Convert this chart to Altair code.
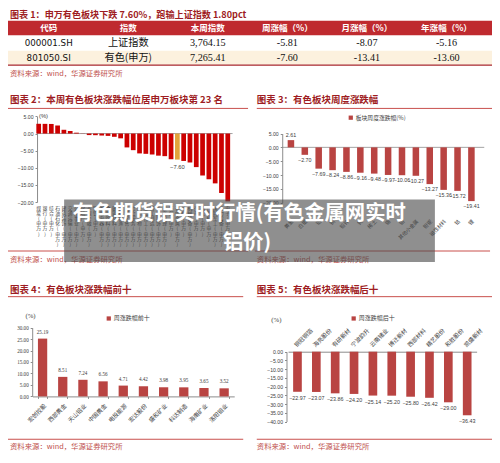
import altair as alt
import pandas as pd

W, H = 484, 447
SX, SY = W / 500, H / 463


def px(v):
    return round(v * SX, 2)


def py(v):
    return round(v * SY, 2)


def fz(v):
    return round(v * SX, 2)


CJK = "Noto Sans CJK SC"
SANS = "Liberation Sans, Noto Sans CJK SC"
SERIF = "Liberation Serif, Noto Sans CJK SC"

TITLE_COLOR = "#9e1c22"
SOURCE_COLOR = "#c0504d"
RULE_COLOR = "#c9504d"
HEADER_RED = "#bf2a2f"
BEIGE = "#fcf1de"
BAR_RED = "#cc0000"
BAR_ORANGE = "#e2a33b"
BAR_BROWN = "#b94442"
AXIS_GREY = "#8c8c8c"
LABEL_GREY = "#404040"

# ---------------- data ----------------
source_text = "资料来源：wind，华源证券研究所"

table_title = "图表 1：申万有色板块下跌 7.60%，跑输上证指数 1.80pct"
table_header = ["代码", "指数", "本周指数", "周涨幅（%）", "月涨幅（%）", "年涨幅（%）"]
table_codes = ["000001.SH", "801050.SI"]
table_names = ["上证指数", "有色(申万)"]
table_row1_nums = ["3,764.15", "-5.81", "-8.07", "-5.16"]
table_row2_nums = ["7,265.41", "-7.60", "-13.41", "-13.60"]

c2_title = "图表 2：本周有色板块涨跌幅位居申万板块第 23 名"
c2_industries = ["煤炭(申万)", "银行(申万)", "综合(申万)", "石油石化(申万)", "建筑装饰(申万)",
                 "交通运输(申万)", "公用事业(申万)", "房地产(申万)", "非银金融(申万)", "钢铁(申万)",
                 "家用电器(申万)", "食品饮料(申万)", "建筑材料(申万)", "农林牧渔(申万)", "商贸零售(申万)",
                 "社会服务(申万)", "医药生物(申万)", "基础化工(申万)", "轻工制造(申万)", "纺织服饰(申万)",
                 "美容护理(申万)", "环保(申万)", "有色金属(申万)", "传媒(申万)", "机械设备(申万)",
                 "汽车(申万)", "通信(申万)", "计算机(申万)", "国防军工(申万)", "电力设备(申万)", "电子(申万)"]
c2_values = [2.85, 2.83, 2.80, 2.35, 1.10, 0.75, 0.25, -0.05, -0.45, -0.48, -0.58, -0.68, -0.95,
             -1.40, -4.05, -4.85, -5.80, -5.92, -6.12, -6.45, -6.60, -7.50, -7.60, -8.00, -8.45,
             -9.80, -12.25, -13.35, -14.55, -17.35, -19.80]
c2_highlight = "有色金属(申万)"
c2_ticks = [5, 0, -5, -10, -15, -20]

c3_title = "图表 3：有色板块周度涨跌幅"
c3_legend = "板块周度涨跌幅(%)"
c3_sectors = ["黄金", "白银", "铝", "铜", "铅锌", "钨", "稀土", "锡", "钼", "其他小金属",
              "钽铌", "磁性材料", "钴", "锂"]
c3_values = [2.61, -2.70, -7.69, -8.24, -8.86, -9.16, -9.48, -9.97, -10.06, -10.27,
             -13.27, -15.36, -15.72, -19.41]
c3_ticks = [5, 0, -5, -10, -15, -20]

c4_title = "图表 4：有色板块涨跌幅前十"
c4_legend = "周涨跌幅前十"
c4_stocks = ["宏创控股", "西部黄金", "天山铝业", "中国黄金", "电投能源", "宏达股份",
             "盛和矿业", "科达制造", "海南矿业", "洛阳钼业"]
c4_values = [25.19, 8.51, 7.24, 6.56, 4.71, 4.42, 3.98, 3.95, 3.65, 3.52]
c4_ticks = [0, 5, 10, 15, 20, 25, 30]

c5_title = "图表 5：有色板块涨跌幅后十"
c5_legend = "周涨跌幅后十"
c5_stocks = ["铜冠铜箔", "海亮股份", "有研新材", "宁波韵升", "云南锗业", "博迁新材",
             "西部材料", "精艺股份", "和胜股份", "凯盛新材"]
c5_values = [-22.97, -23.07, -23.86, -24.20, -25.14, -25.20, -25.80, -26.42, -29.00, -36.43]
c5_ticks = [0, -5, -10, -15, -20, -25, -30, -35, -40]

overlay_lines = ["有色期货铝实时行情(有色金属网实时", "铝价)"]


# ---------------- helpers ----------------
def ptext(txt, x, y, size, color="#000000", font=CJK, weight="normal", align="left",
          baseline="middle", opacity=1.0):
    df = pd.DataFrame({"t": [txt]})
    return alt.Chart(df).mark_text(
        align=align, baseline=baseline, font=font, fontSize=size, fontWeight=weight,
        color=color, opacity=opacity
    ).encode(x=alt.value(px(x)), y=alt.value(py(y)), text="t:N")


def prule(x1, x2, y, color, width=1.0):
    df = pd.DataFrame({"a": [0]})
    return alt.Chart(df).mark_rule(color=color, strokeWidth=width).encode(
        x=alt.value(px(x1)), x2=alt.value(px(x2)), y=alt.value(py(y)))


def prect(x1, y1, x2, y2, color, opacity=1.0):
    df = pd.DataFrame({"a": [0]})
    return alt.Chart(df).mark_rect(color=color, opacity=opacity).encode(
        x=alt.value(px(x1)), x2=alt.value(px(x2)), y=alt.value(py(y1)), y2=alt.value(py(y2)))


def yaxis(x, ticks, font, size=5.3):
    return alt.Axis(orient="left", offset=-px(x), values=ticks, format=".2f", title=None,
                    grid=False, domainColor=AXIS_GREY, tickColor=AXIS_GREY, tickSize=2,
                    labelFontSize=fz(size), labelColor=LABEL_GREY, labelFont=font, labelPadding=2)


layers = []

# ---------------- chart 1 : table ----------------
layers.append(ptext(table_title, 2, 7.6, fz(9.4), TITLE_COLOR, weight="bold"))
layers.append(prect(0, 13.3, 500, 28.3, HEADER_RED))
layers.append(prect(0, 44.3, 500, 58.5, BEIGE))
layers.append(prule(0, 500, 59.2, "#a8262b", 1.2))

col_ids = list(range(6))
col_scale = alt.Scale(type="point", domain=col_ids, range=[px(42), px(453)], padding=0)
row_scale = alt.Scale(type="point", domain=["r1", "r2"], range=[py(36.7), py(51.6)], padding=0)

hdr_df = pd.DataFrame({"col": col_ids, "text": table_header})
layers.append(alt.Chart(hdr_df).mark_text(font=CJK, fontWeight="bold", fontSize=fz(8.8), color="white").encode(
    x=alt.X("col:O", scale=col_scale, axis=None), y=alt.value(py(20.8)), text="text:N"))

code_df = pd.DataFrame({"col": [0, 0], "row": ["r1", "r2"], "text": table_codes})
layers.append(alt.Chart(code_df).mark_text(font="DejaVu Sans", fontSize=fz(9), color="#111111").encode(
    x=alt.X("col:O", scale=col_scale, axis=None), y=alt.Y("row:O", scale=row_scale, axis=None), text="text:N"))

name_df = pd.DataFrame({"col": [1, 1], "row": ["r1", "r2"], "text": table_names})
layers.append(alt.Chart(name_df).mark_text(font=CJK, fontSize=fz(10.5), color="#111111").encode(
    x=alt.X("col:O", scale=col_scale, axis=None), y=alt.Y("row:O", scale=row_scale, axis=None), text="text:N"))

num_df = pd.DataFrame({"col": [2, 3, 4, 5] * 2, "row": ["r1"] * 4 + ["r2"] * 4,
                       "text": table_row1_nums + table_row2_nums})
layers.append(alt.Chart(num_df).mark_text(font="Liberation Serif", fontSize=fz(10.5), color="#111111").encode(
    x=alt.X("col:O", scale=col_scale, axis=None), y=alt.Y("row:O", scale=row_scale, axis=None), text="text:N"))

layers.append(ptext(source_text, 2, 68.5, fz(7.6), SOURCE_COLOR))

# ---------------- chart 2 ----------------
layers.append(ptext(c2_title, 2, 95, fz(9.8), TITLE_COLOR, weight="bold"))
layers.append(prule(0, 248, 104, RULE_COLOR, 1.0))
layers.append(ptext("(%)", 32, 112.3, fz(6), LABEL_GREY, font=SANS))

c2_df = pd.DataFrame({"name": c2_industries, "value": c2_values,
                      "hl": ["y" if n == c2_highlight else "n" for n in c2_industries]})
c2_xs = alt.Scale(domain=c2_industries, range=[px(28.45), px(230.3)], paddingInner=0.25, paddingOuter=0.125)
c2_ys = alt.Scale(domain=[-20, 5], range=[py(201), py(112.3)], nice=False, zero=False)

layers.append(alt.Chart(pd.DataFrame({"v": [0]})).mark_rule(color=AXIS_GREY, strokeWidth=0.8).encode(
    y=alt.Y("v:Q", scale=c2_ys, axis=None), x=alt.value(px(30)), x2=alt.value(px(232))))
layers.append(alt.Chart(c2_df).mark_bar().encode(
    x=alt.X("name:N", scale=c2_xs, sort=None, axis=alt.Axis(
        orient="bottom", offset=-(H - py(201)), title=None, domain=False, ticks=False, labelAngle=0,
        labelExpr="split(datum.label, '')", labelFontSize=fz(5.0), labelLineHeight=fz(5.4),
        labelBaseline="top", labelPadding=3, labelColor=LABEL_GREY, labelFont=CJK, labelOverlap=False)),
    y=alt.Y("value:Q", scale=c2_ys, axis=yaxis(30, c2_ticks, SANS)),
    color=alt.Color("hl:N", scale=alt.Scale(domain=["n", "y"], range=[BAR_RED, BAR_ORANGE]), legend=None)))
layers.append(alt.Chart(c2_df[c2_df.hl == "y"]).mark_text(baseline="top", dy=4, fontSize=fz(6), font=SANS,
                                                          color=LABEL_GREY).encode(
    x=alt.X("name:N", scale=c2_xs, axis=None), y=alt.Y("value:Q", scale=c2_ys, axis=None),
    text=alt.Text("value:Q", format=".2f")))

layers.append(prule(0, 248, 251.7, RULE_COLOR, 1.0))
layers.append(ptext(source_text, 2, 261, fz(7.6), SOURCE_COLOR))

# ---------------- chart 3 ----------------
layers.append(ptext(c3_title, 257, 95, fz(9.8), TITLE_COLOR, weight="bold"))
layers.append(prule(257, 500, 104, RULE_COLOR, 1.0))

c3_df = pd.DataFrame({"name": c3_sectors, "value": c3_values, "series": c3_legend})
c3_xs = alt.Scale(domain=c3_sectors, range=[px(285.1), px(485.9)], paddingInner=0.53, paddingOuter=0.265)
c3_ys = alt.Scale(domain=[-20, 5], range=[py(201.7), py(130)], nice=False, zero=False)

layers.append(alt.Chart(pd.DataFrame({"v": [0]})).mark_rule(color=AXIS_GREY, strokeWidth=0.8).encode(
    y=alt.Y("v:Q", scale=c3_ys, axis=None), x=alt.value(px(283.3)), x2=alt.value(px(492))))
layers.append(alt.Chart(c3_df).mark_bar().encode(
    x=alt.X("name:N", scale=c3_xs, sort=None, axis=alt.Axis(
        orient="bottom", offset=-(H - py(216)), title=None, domain=False, ticks=False, labelAngle=-45,
        labelFontSize=fz(5.3), labelPadding=2, labelColor=LABEL_GREY, labelFont=CJK, labelOverlap=False)),
    y=alt.Y("value:Q", scale=c3_ys, axis=yaxis(283.3, c3_ticks, SANS)),
    color=alt.Color("series:N", scale=alt.Scale(domain=[c3_legend], range=[BAR_BROWN]), legend=alt.Legend(
        orient="none", legendX=px(351), legendY=py(110.5), title=None, symbolType="square", symbolSize=18,
        labelFontSize=fz(6), labelFont=CJK, labelColor=LABEL_GREY, labelOffset=2, padding=0))))
c3_pos = c3_df[c3_df.value >= 0]
c3_neg = c3_df[c3_df.value < 0]
layers.append(alt.Chart(c3_pos).mark_text(baseline="bottom", dy=-2, fontSize=fz(5.5), font=SANS,
                                          color=LABEL_GREY).encode(
    x=alt.X("name:N", scale=c3_xs, axis=None), y=alt.Y("value:Q", scale=c3_ys, axis=None),
    text=alt.Text("value:Q", format=".2f")))
layers.append(alt.Chart(c3_neg).mark_text(baseline="top", dy=3, fontSize=fz(5.5), font=SANS,
                                          color=LABEL_GREY).encode(
    x=alt.X("name:N", scale=c3_xs, axis=None), y=alt.Y("value:Q", scale=c3_ys, axis=None),
    text=alt.Text("value:Q", format=".2f")))

layers.append(prule(255, 498, 251.7, RULE_COLOR, 1.0))
layers.append(ptext(source_text, 257, 261, fz(7.6), SOURCE_COLOR))

# ---------------- chart 4 ----------------
layers.append(ptext(c4_title, 2, 292.3, fz(9.8), TITLE_COLOR, weight="bold"))
layers.append(prule(0, 243, 299, RULE_COLOR, 1.0))
layers.append(ptext("(%)", 18, 319, fz(7), LABEL_GREY, font=SERIF))

c4_df = pd.DataFrame({"name": c4_stocks, "value": c4_values, "series": c4_legend})
c4_xs = alt.Scale(domain=c4_stocks, range=[px(25.3), px(233.7)], paddingInner=0.54, paddingOuter=0.27)
c4_ys = alt.Scale(domain=[0, 30], range=[py(402.3), py(331)], nice=False)

layers.append(alt.Chart(c4_df).mark_bar().encode(
    x=alt.X("name:N", scale=c4_xs, sort=None, axis=alt.Axis(
        orient="bottom", offset=-(H - py(402.3)), title=None, domain=True, domainColor=AXIS_GREY,
        ticks=True, tickColor=AXIS_GREY, tickSize=2, tickBand="extent", labelAngle=-45,
        labelFontSize=fz(6), labelPadding=4, labelColor=LABEL_GREY, labelFont=CJK, labelOverlap=False)),
    y=alt.Y("value:Q", scale=c4_ys, axis=yaxis(25, c4_ticks, SERIF)),
    color=alt.Color("series:N", scale=alt.Scale(domain=[c4_legend], range=[BAR_BROWN]), legend=alt.Legend(
        orient="none", legendX=px(101), legendY=py(318.5), title=None, symbolType="square", symbolSize=18,
        labelFontSize=fz(6.2), labelFont=CJK, labelColor=LABEL_GREY, labelOffset=2, padding=0))))
layers.append(alt.Chart(c4_df).mark_text(baseline="bottom", dy=-4, fontSize=fz(5.3), font=SERIF,
                                         color=LABEL_GREY).encode(
    x=alt.X("name:N", scale=c4_xs, axis=None), y=alt.Y("value:Q", scale=c4_ys, axis=None),
    text=alt.Text("value:Q", format=".2f")))

layers.append(prule(0, 243, 446.7, RULE_COLOR, 1.0))
layers.append(ptext(source_text, 2, 454.3, fz(7.6), SOURCE_COLOR))

# ---------------- chart 5 ----------------
layers.append(ptext(c5_title, 257, 292.3, fz(9.8), TITLE_COLOR, weight="bold"))
layers.append(prule(257, 500, 299, RULE_COLOR, 1.0))
layers.append(ptext("(%)", 272, 322.7, fz(7), LABEL_GREY, font=SERIF))

c5_df = pd.DataFrame({"name": c5_stocks, "value": c5_values, "series": c5_legend})
c5_xs = alt.Scale(domain=c5_stocks, range=[px(289.3), px(484.1)], paddingInner=0.54, paddingOuter=0.27)
c5_ys = alt.Scale(domain=[-40, 0], range=[py(428.3), py(356)], nice=False)

layers.append(alt.Chart(c5_df).mark_bar().encode(
    x=alt.X("name:N", scale=c5_xs, sort=None, axis=alt.Axis(
        orient="top", offset=-py(356), title=None, domain=True, domainColor=AXIS_GREY,
        ticks=False, labelAngle=-45, labelFontSize=fz(6), labelPadding=4, labelColor=LABEL_GREY,
        labelFont=CJK, labelOverlap=False)),
    y=alt.Y("value:Q", scale=c5_ys, axis=yaxis(287.7, c5_ticks, SANS)),
    color=alt.Color("series:N", scale=alt.Scale(domain=[c5_legend], range=[BAR_BROWN]), legend=alt.Legend(
        orient="none", legendX=px(354), legendY=py(318.5), title=None, symbolType="square", symbolSize=18,
        labelFontSize=fz(6.2), labelFont=CJK, labelColor=LABEL_GREY, labelOffset=2, padding=0))))
layers.append(alt.Chart(c5_df).mark_text(baseline="top", dy=4, fontSize=fz(5.5), font=SANS,
                                         color=LABEL_GREY).encode(
    x=alt.X("name:N", scale=c5_xs, axis=None), y=alt.Y("value:Q", scale=c5_ys, axis=None),
    text=alt.Text("value:Q", format=".2f")))

layers.append(prule(257, 500, 446.7, RULE_COLOR, 1.0))
layers.append(ptext(source_text, 257, 454.3, fz(7.6), SOURCE_COLOR))

# ---------------- overlay ----------------
layers.append(prect(58, 198.3, 441, 263, "#4a4a4a", 0.62))
layers.append(ptext(overlay_lines[0], 67, 213.5, fz(21), "#ffffff", weight="bold"))
layers.append(ptext(overlay_lines[1], 222, 243, fz(21), "#ffffff", weight="bold"))

chart = alt.layer(*layers).resolve_scale(
    x="independent", y="independent", color="independent"
).resolve_axis(x="independent", y="independent").resolve_legend(color="independent").properties(
    width=W, height=H, autosize=alt.AutoSizeParams(type="none"), padding=0
).configure_view(stroke=None)

chart.save("out.html", embed_options={"renderer": "svg", "actions": False})
